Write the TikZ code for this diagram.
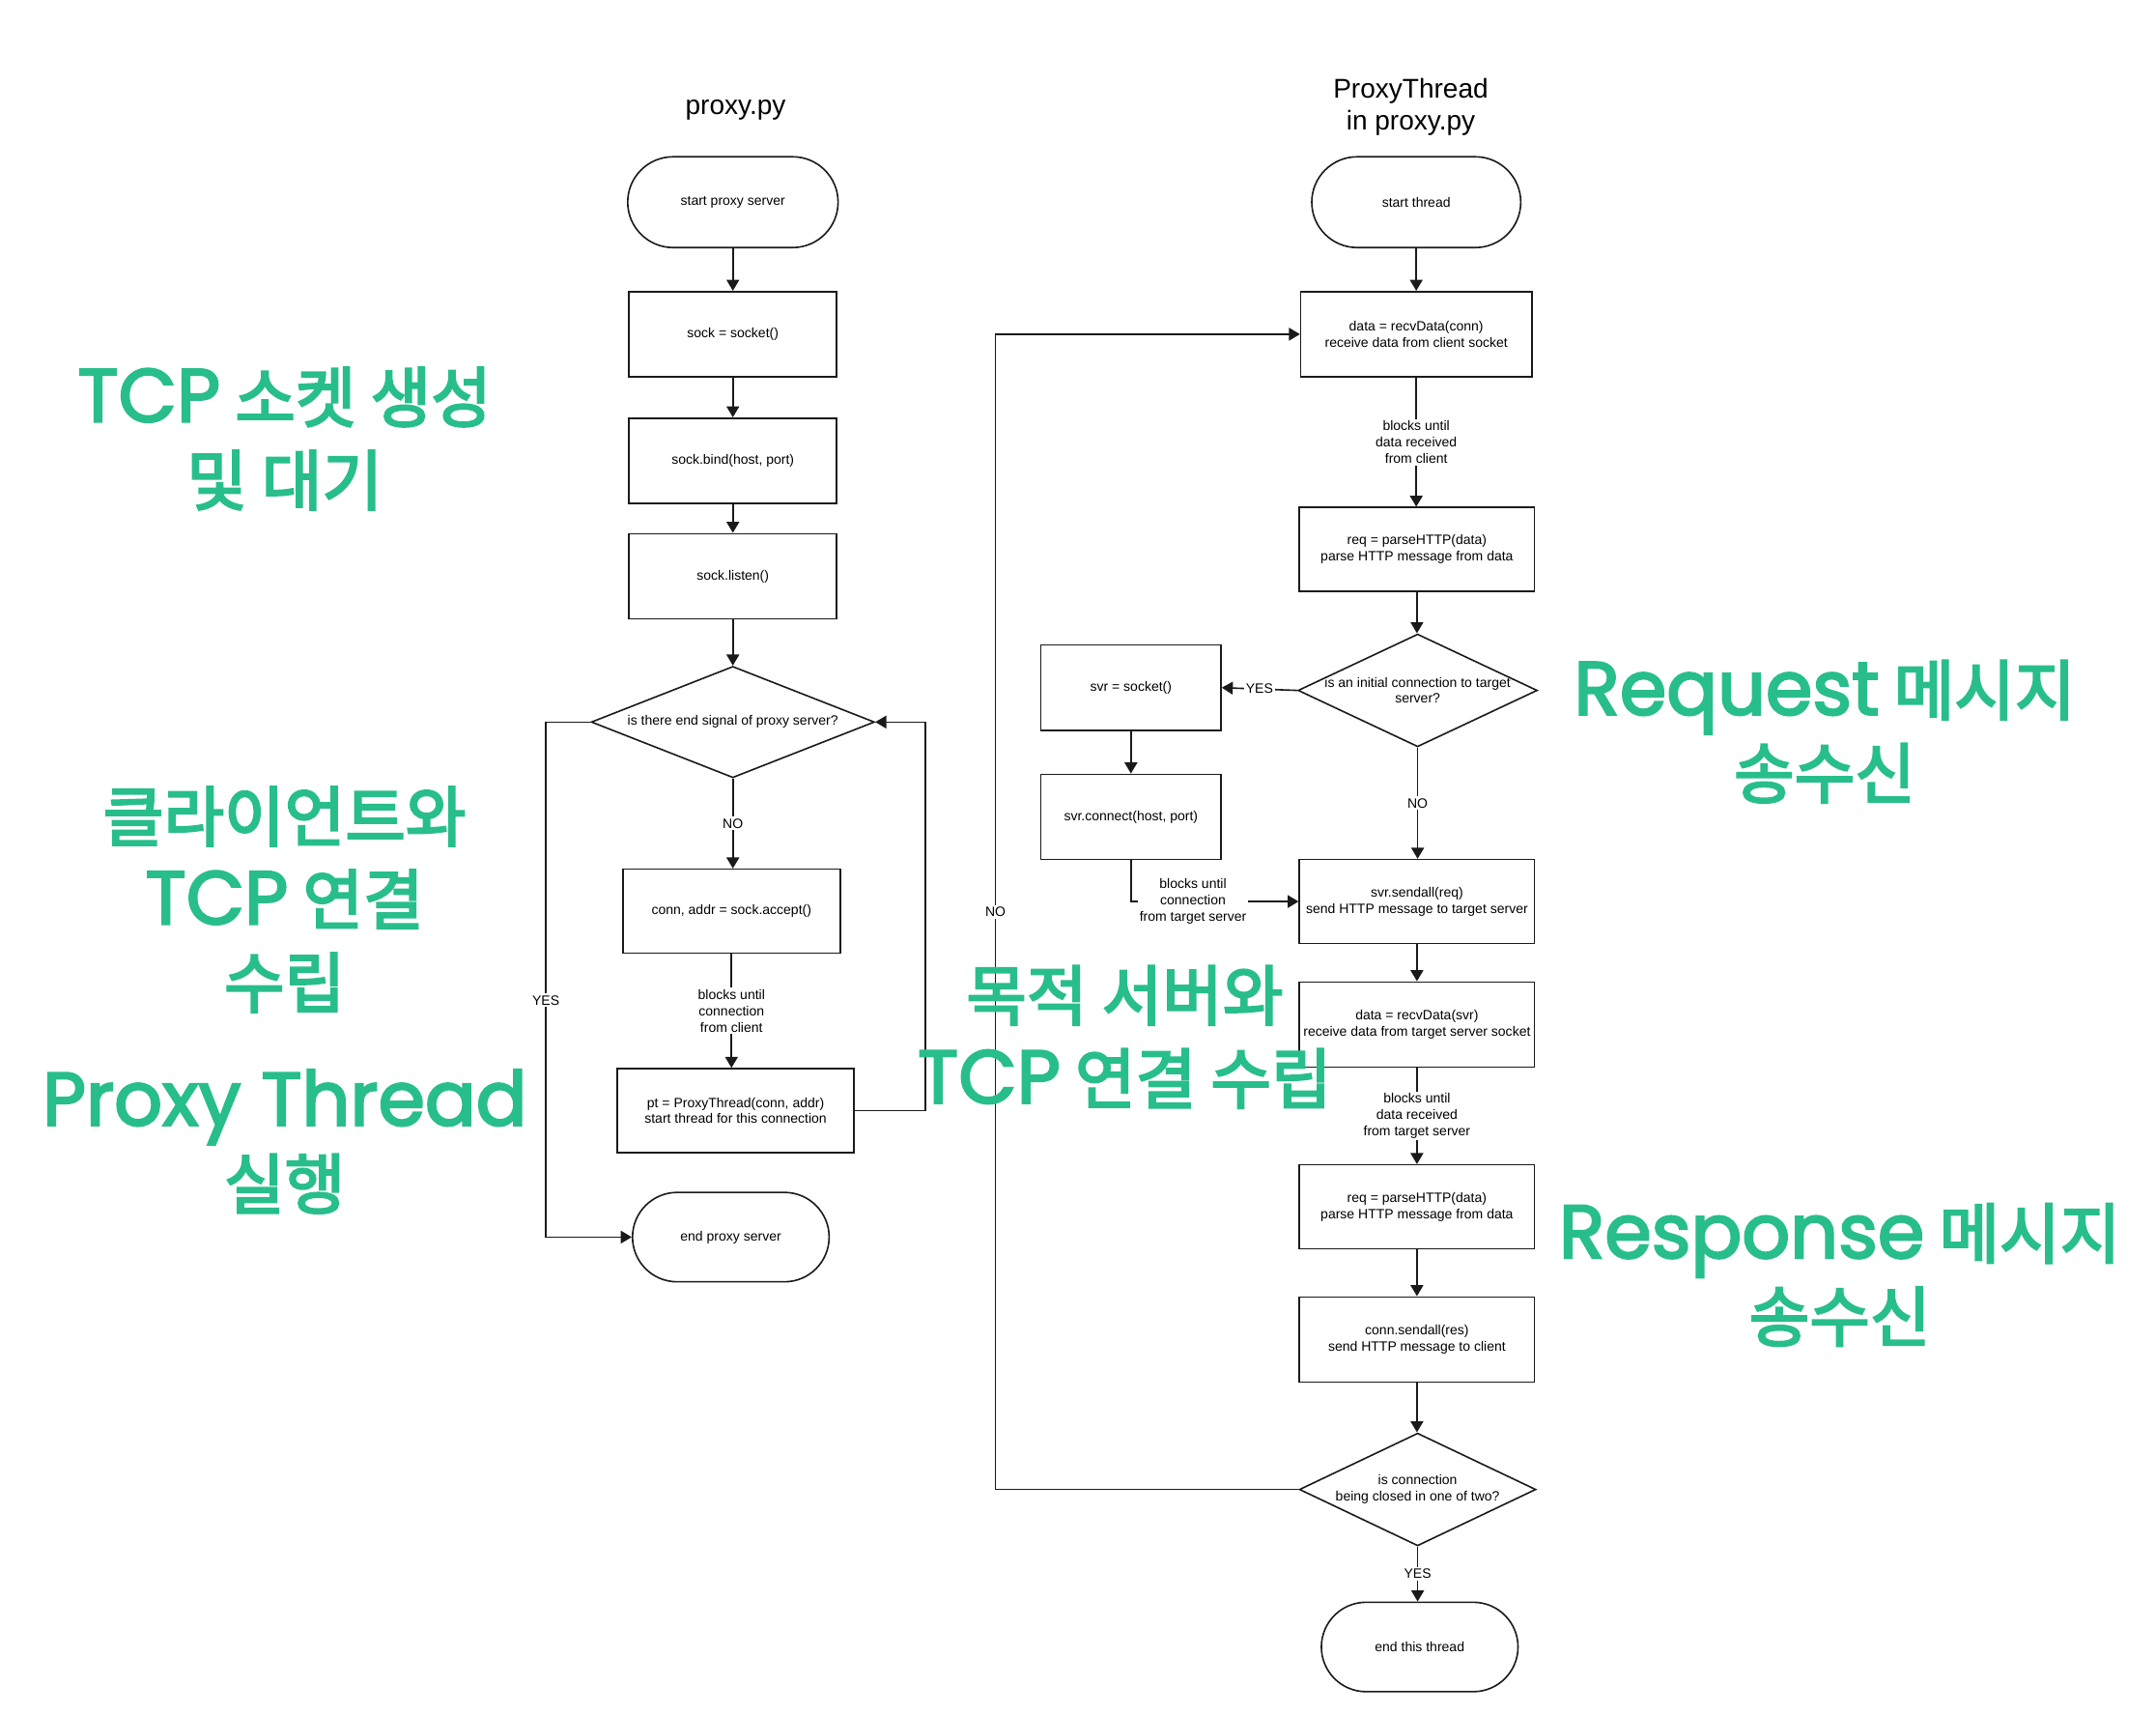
\documentclass[tikz,border=0pt]{standalone}
\usepackage{fontspec}
\setmainfont{Liberation Sans}
\newfontfamily\krfont{Noto Sans CJK KR}
\newfontfamily\popfont{Poppins}
\usetikzlibrary{shapes.geometric,shapes.misc,arrows.meta}
\definecolor{gr}{HTML}{28BE8C}
\definecolor{ln}{HTML}{1A1A1A}
\newcommand\lat[1]{{\popfont\fontsize{39}{43}\selectfont #1}}
\newcommand\heavy[1]{\special{pdf:literal direct 2 Tr 1.1 w}#1\special{pdf:literal direct 0 Tr}}
\begin{document}
\begin{tikzpicture}[x=0.25mm,y=-0.25mm,
  every node/.style={font=\fontsize{7}{8.4}\selectfont, align=center},
  proc/.style={draw=ln, line width=0.8pt, fill=white, rectangle, inner sep=0pt},
  term/.style={draw=ln, line width=0.8pt, fill=white, rounded rectangle, inner sep=0pt},
  dec/.style={draw=ln, line width=0.8pt, fill=white, diamond, inner sep=0pt},
  arr/.style={draw=ln, line width=0.8pt, -{Triangle[length=2mm,width=2.3mm]}},
  lbl/.style={fill=white, inner sep=1pt},
  ttl/.style={font=\fontsize{14}{16.3}\selectfont},
  grn/.style={text=gr, font=\krfont\fontsize{34}{43}\selectfont}
]
\fill[white] (0,0) rectangle (1568,1246);
\useasboundingbox (0,0) rectangle (1568,1246);

% titles
\node[ttl] (h1) at (535,80) {proxy.py};
\node[ttl] (h2) at (1026,78) {ProxyThread\\in proxy.py};

% left column
\node[term, minimum width=38.25mm, minimum height=16.5mm] (t1) at (533,147) {start proxy server};
\node[proc, minimum width=37.75mm, minimum height=15.5mm] (s1) at (533,243) {sock = socket()};
\node[proc, minimum width=37.75mm, minimum height=15.5mm] (s2) at (533,335) {sock.bind(host, port)};
\node[proc, minimum width=37.75mm, minimum height=15.5mm] (s3) at (533,419) {sock.listen()};
\node[dec, minimum width=51.5mm, minimum height=20.25mm] (d1) at (533,525) {};
\node (d1t) at (533,525) {is there end signal of proxy server?};
\node[proc, minimum width=39.5mm, minimum height=15.25mm] (s4) at (532,662.5) {conn, addr = sock.accept()};
\node[proc, minimum width=43mm, minimum height=15.25mm] (s5) at (535,807.5) {pt = ProxyThread(conn, addr)\\start thread for this connection};
\node[term, minimum width=35.75mm, minimum height=16.25mm] (t2) at (531.5,899.5) {end proxy server};

\draw[arr] (t1.south) -- (t1.south |- s1.north);
\draw[arr] (s1.south) -- (s1.south |- s2.north);
\draw[arr] (s2.south) -- (s2.south |- s3.north);
\draw[arr] (s3.south) -- (s3.south |- d1.north);
\draw[arr] (d1.south) -- node[lbl]{NO} (d1.south |- s4.north);
\draw[arr] (s4.south) -- node[lbl]{blocks until\\connection\\from client} (s4.south |- s5.north);
\coordinate (c2) at (673,525);
\draw[arr] (s5.east) -| (c2) -- (d1.east);
\coordinate (c3) at (397,525);
\draw[arr] (d1.west) -- (c3) -- node[lbl,pos=0.54]{YES} (c3 |- t2.west) -- (t2.west);

% right column
\node[term, minimum width=38mm, minimum height=16.5mm] (t3) at (1030,147) {start thread};
\node[proc, minimum width=42mm, minimum height=15.5mm] (r1) at (1030,243) {data = recvData(conn)\\receive data from client socket};
\node[proc, minimum width=42.75mm, minimum height=15.25mm] (r2) at (1030.5,399.5) {req = parseHTTP(data)\\parse HTTP message from data};
\node[dec, minimum width=43.5mm, minimum height=20.5mm] (d2) at (1031,502) {};
\node (d2t) at (1031,502) {is an initial connection to target\\server?};
\node[proc, minimum width=32.75mm, minimum height=15.5mm] (v1) at (822.5,500) {svr = socket()};
\node[proc, minimum width=32.75mm, minimum height=15.5mm] (v2) at (822.5,594) {svr.connect(host, port)};
\node[proc, minimum width=42.75mm, minimum height=15.25mm] (r3) at (1030.5,655.5) {svr.sendall(req)\\send HTTP message to target server};
\node[proc, minimum width=42.75mm, minimum height=15.5mm] (r4) at (1030.5,745) {data = recvData(svr)\\receive data from target server socket};
\node[proc, minimum width=42.75mm, minimum height=15.25mm] (r5) at (1030.5,877.5) {req = parseHTTP(data)\\parse HTTP message from data};
\node[proc, minimum width=42.75mm, minimum height=15.5mm] (r6) at (1030.5,974) {conn.sendall(res)\\send HTTP message to client};
\node[dec, minimum width=43mm, minimum height=20.5mm] (d3) at (1031,1083) {};
\node (d3t) at (1031,1083) {is connection\\being closed in one of two?};
\node[term, minimum width=35.75mm, minimum height=16.25mm] (t4) at (1032.5,1197.5) {end this thread};

\draw[arr] (t3.south) -- (t3.south |- r1.north);
\draw[arr] (r1.south) -- node[lbl]{blocks until\\data received\\from client} (r1.south |- r2.north);
\draw[arr] (r2.south) -- (r2.south |- d2.north);
\draw[arr] (d2.west) -- node[lbl]{YES} (v1.east);
\draw[arr] (v1.south) -- (v2.north);
\draw[arr] (v2.south) |- node[lbl,pos=0.685]{blocks until\\connection\\from target server} (r3.west);
\draw[arr] (d2.south) -- node[lbl]{NO} (d2.south |- r3.north);
\draw[arr] (r3.south) -- (r3.south |- r4.north);
\draw[arr] (r4.south) -- node[lbl]{blocks until\\data received\\from target server} (r4.south |- r5.north);
\draw[arr] (r5.south) -- (r5.south |- r6.north);
\draw[arr] (r6.south) -- (r6.south |- d3.north);
\draw[arr] (d3.south) -- node[lbl]{YES} (d3.south |- t4.north);
\coordinate (c4) at (724,1083);
\draw[arr] (d3.west) -- (c4) -- node[lbl]{NO} (c4 |- r1.west) -- (r1.west);

% green annotations
\node[grn] (g1) at (207,319) {\heavy{\lat{TCP} 소켓 생성}\\\heavy{및 대기}};
\node[grn] (g2) at (207,654) {\heavy{클라이언트와}\\\heavy{\lat{TCP} 연결}\\\heavy{수립}};
\node[grn] (g3) at (207,830) {\heavy{\lat{Proxy Thread}}\\\heavy{실행}};
\node[grn] (g4) at (818,754) {\heavy{목적 서버와}\\\heavy{\lat{TCP} 연결 수립}};
\node[grn] (g5) at (1327,532) {\heavy{\lat{Request} 메시지}\\\heavy{송수신}};
\node[grn] (g6) at (1338,927) {\heavy{\lat{Response} 메시지}\\\heavy{송수신}};
\end{tikzpicture}
\end{document}
